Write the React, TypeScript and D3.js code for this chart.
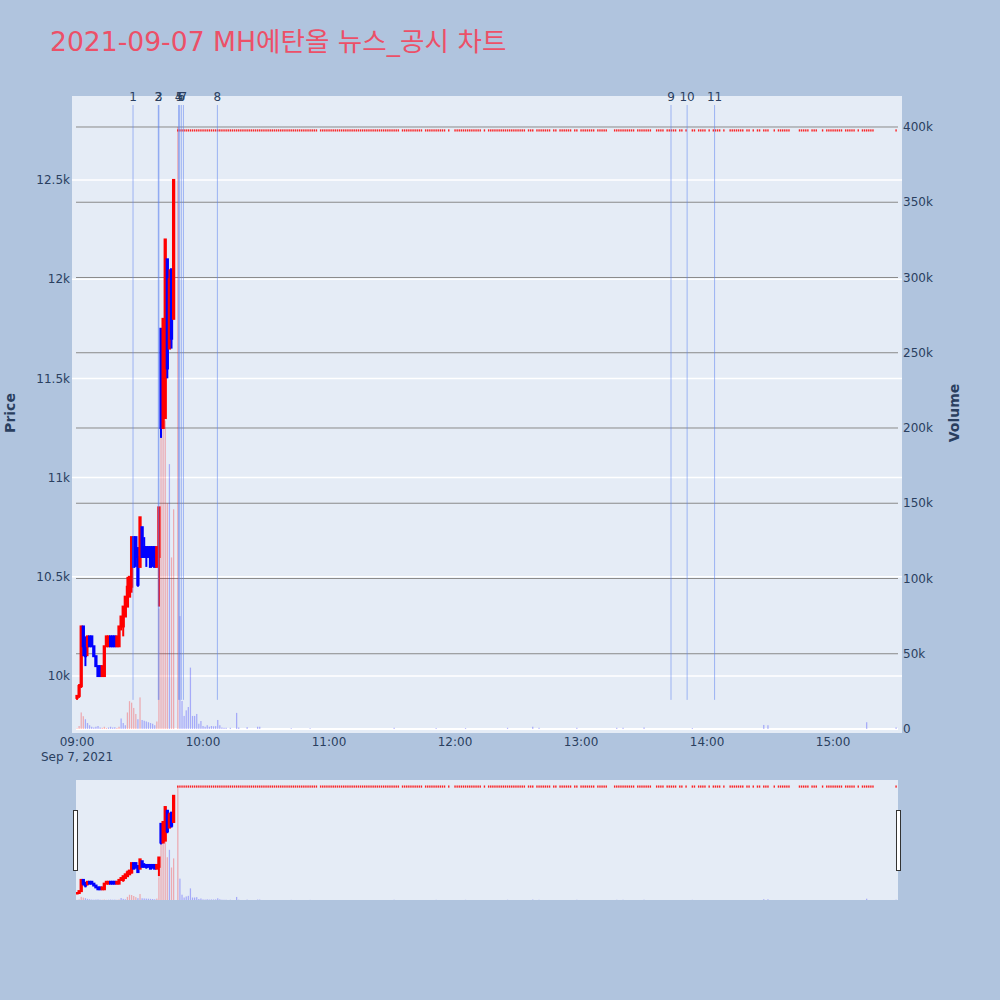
import React from 'react';
import * as d3 from 'd3';

const TITLE = '2021-09-07 MH에탄올 뉴스_공시 차트';

// 1-minute candles before the upper limit
const candleTimes = [
  '09:00','09:01','09:02','09:03','09:04','09:05','09:06','09:07','09:08','09:09',
  '09:10','09:11','09:12','09:13','09:14','09:15','09:16','09:17','09:18','09:19',
  '09:20','09:21','09:22','09:23','09:24','09:25','09:26','09:27','09:28','09:29',
  '09:30','09:31','09:32','09:33','09:34','09:35','09:36','09:37','09:38','09:39',
  '09:40','09:41','09:42','09:43','09:44','09:45','09:46',
];
const opens = [
  9890, 9900, 9950, 10250, 10150, 10150, 10200, 10200, 10150, 10100,
  10050, 10050, 10000, 10000, 10150, 10150, 10200, 10200, 10200, 10150,
  10150, 10250, 10250, 10300, 10350, 10400, 10450, 10700, 10700, 10600,
  10550, 10750, 10650, 10650, 10650, 10650, 10650, 10650, 10550, 10600,
  11750, 11250, 11300, 12100, 11650, 12050, 11800,
];
const highs = [
  9900, 9960, 10250, 10250, 10200, 10200, 10200, 10200, 10150, 10100,
  10050, 10050, 10050, 10150, 10200, 10200, 10200, 10200, 10200, 10200,
  10250, 10300, 10350, 10400, 10500, 10500, 10700, 10700, 10700, 10650,
  10800, 10750, 10700, 10650, 10650, 10650, 10650, 10650, 10650, 10850,
  11750, 11800, 12200, 12100, 12050, 12050, 12500,
];
const lows = [
  9880, 9890, 9940, 10100, 10050, 10100, 10150, 10150, 10100, 10050,
  10000, 10000, 10000, 10000, 10150, 10150, 10150, 10150, 10150, 10150,
  10150, 10230, 10200, 10300, 10350, 10400, 10420, 10550, 10550, 10450,
  10550, 10600, 10600, 10550, 10600, 10550, 10550, 10550, 10550, 10350,
  11200, 11250, 11300, 11500, 11650, 11650, 11800,
];
const closes = [
  9900, 9950, 10250, 10150, 10100, 10200, 10150, 10150, 10100, 10050,
  10000, 10000, 10050, 10150, 10200, 10200, 10150, 10150, 10150, 10200,
  10250, 10300, 10350, 10400, 10450, 10500, 10700, 10550, 10600, 10460,
  10800, 10600, 10600, 10600, 10600, 10550, 10600, 10550, 10650, 10850,
  11250, 11800, 12200, 11550, 12000, 11700, 12500,
];

// trades at the upper-limit price (runs of minutes with a trade)
const limitPrice = 12750;
const limitRunStarts = [
  '09:48','10:56','11:35','11:46','11:57','12:00','12:14','12:16','12:35','12:39',
  '12:47','12:50','12:57','13:00','13:08','13:16','13:27','13:36','13:41','13:47',
  '13:50','13:53','13:56','14:01','14:03','14:08','14:11','14:19','14:22','14:24',
  '14:27','14:32','14:34','14:44','14:50','14:55','14:57','15:06','15:12','15:14','15:30',
];
const limitRunEnds = [
  '10:54','11:33','11:44','11:55','11:57','12:12','12:14','12:33','12:37','12:45',
  '12:48','12:55','12:58','13:06','13:12','13:25','13:33','13:39','13:45','13:48',
  '13:50','13:54','13:59','14:01','14:06','14:08','14:17','14:20','14:22','14:25',
  '14:29','14:32','14:39','14:48','14:52','14:55','15:04','15:10','15:12','15:19','15:30',
];

// volume per minute
const volTimes = [
  '09:00','09:01','09:02','09:03','09:04','09:05','09:06','09:07','09:08','09:09',
  '09:10','09:11','09:12','09:13','09:14','09:15','09:16','09:17','09:18','09:19',
  '09:20','09:21','09:22','09:23','09:24','09:25','09:26','09:27','09:28','09:29',
  '09:30','09:31','09:32','09:33','09:34','09:35','09:36','09:37','09:38','09:39',
  '09:40','09:41','09:42','09:43','09:44','09:45','09:46','09:48','09:49','09:50',
  '09:51','09:52','09:53','09:54','09:55','09:56','09:57','09:58','09:59','10:00',
  '10:01','10:02','10:03','10:04','10:05','10:06','10:07','10:08','10:09','10:10',
  '10:11','10:13','10:16','10:17','10:21','10:26','10:27','10:42','10:51','11:31',
  '11:51','12:05','12:25','12:37','12:40','12:58','13:17','13:20','13:30','13:53',
  '14:27','14:29','15:16','15:30',
];
const volValues = [
  500, 2000, 11000, 8500, 6500, 4000, 2500, 1500, 1000, 1500,
  2000, 1000, 800, 1500, 600, 1000, 1500, 1000, 1200, 700,
  1500, 7000, 4000, 2500, 11000, 18500, 17500, 14000, 10000, 6500,
  21000, 6000, 5500, 5000, 4500, 4000, 3500, 2500, 5000, 80000,
  200000, 230000, 205000, 150000, 176000, 114000, 146000, 400000, 75000, 18600,
  8700, 12400, 14600, 40800, 8700, 8700, 10000, 3500, 5300, 2000,
  1500, 2500, 1500, 2000, 1800, 1900, 6000, 2500, 1000, 800,
  800, 800, 10700, 1000, 1200, 1500, 1500, 500, 500, 800,
  600, 600, 800, 1500, 800, 800, 800, 800, 1000, 600,
  2700, 2500, 4500, 1000,
];
const volDirs = [
  'u','u','u','u','d','d','d','d','d','d',
  'd','d','u','u','u','d','d','d','d','u',
  'u','d','d','d','u','u','u','u','u','d',
  'u','d','d','d','d','d','d','d','u','u',
  'u','u','u','u','d','u','u','u','d','d',
  'd','d','d','d','d','d','d','d','d','d',
  'd','d','d','d','d','d','d','d','d','d',
  'd','d','d','d','d','d','d','d','d','d',
  'd','d','d','d','d','d','d','d','d','d',
  'd','d','d','d',
];

// news / disclosure markers
const newsTimes = ['09:26:40','09:38:42','09:39:00','09:48:20','09:48:50','09:49:40','09:50:40','10:06:50','13:42:50','13:50:30','14:03:35'];
const newsLabels = ['1','2','3','4','5','6','7','8','9','10','11'];

const priceTicks = [10000, 10500, 11000, 11500, 12000, 12500];
const volTicks = [0, 50000, 100000, 150000, 200000, 250000, 300000, 350000, 400000];
const timeTicks = ['09:00','10:00','11:00','12:00','13:00','14:00','15:00'];

const parseT = (s: string) => {
  const [h, m, sec] = s.split(':').map(Number);
  return new Date(2021, 8, 7, h, m, sec || 0);
};

const RED = '#ff0000';
const BLUE = '#0000ff';
const TXT = '#2a3f5f';
const FONT = "'DejaVu Sans', Verdana, 'Noto Sans CJK KR', sans-serif";

type Candle = { t: Date; o: number; h: number; l: number; c: number };

export default function App() {
  const candles: Candle[] = candleTimes.map((t, i) => ({
    t: parseT(t), o: opens[i], h: highs[i], l: lows[i], c: closes[i],
  }));
  limitRunStarts.forEach((s, i) => {
    const a = parseT(s).getTime();
    const b = parseT(limitRunEnds[i]).getTime();
    for (let t = a; t <= b; t += 60000) {
      candles.push({ t: new Date(t), o: limitPrice, h: limitPrice, l: limitPrice, c: limitPrice });
    }
  });
  const vols = volTimes.map((t, i) => ({ t: parseT(t), v: volValues[i], up: volDirs[i] === 'u' }));

  const x = d3.scaleTime().domain([parseT('08:59:31'), parseT('15:30:55')]).range([76, 898]);
  const yP = d3.scaleLinear().domain([9713, 12923]).range([733, 96]);
  const yV = d3.scaleLinear().domain([-2658, 420598]).range([733, 96]);
  const yPs = d3.scaleLinear().domain([9713, 12923]).range([900, 780]);
  const yVs = d3.scaleLinear().domain([0, 421000]).range([900, 780]);

  const mw = x(parseT('09:01')) - x(parseT('09:00'));
  const bw = mw * 0.6;

  const minLow = d3.min(candles, (d) => d.l) as number;
  const maxHigh = d3.max(candles, (d) => d.h) as number;

  const drawVolumes = (yS: d3.ScaleLinear<number, number>, key: string) =>
    vols.map((d, i) => (
      <rect
        key={key + i}
        x={x(d.t) - bw / 2}
        y={yS(d.v)}
        width={bw}
        height={Math.max(0, yS(0) - yS(d.v))}
        fill={d.up ? RED : BLUE}
        opacity={0.28}
      />
    ));

  const drawCandles = (yS: d3.ScaleLinear<number, number>, key: string) =>
    candles.map((d, i) => {
      const cx = x(d.t);
      if (d.o === d.h && d.h === d.l && d.l === d.c) {
        return (
          <rect key={key + i} x={cx - 0.7} y={yS(d.c) - 1} width={1.4} height={2.2} fill={RED} opacity={0.85} />
        );
      }
      const col = d.c >= d.o ? RED : BLUE;
      const yt = yS(Math.max(d.o, d.c));
      const yb = yS(Math.min(d.o, d.c));
      return (
        <g key={key + i}>
          <line x1={cx} x2={cx} y1={yS(d.h)} y2={yS(d.l)} stroke={col} strokeWidth={2} />
          <rect x={cx - bw / 2} y={yt} width={bw} height={Math.max(0.5, yb - yt)} fill={col} stroke={col} strokeWidth={2} />
        </g>
      );
    });

  const priceFmt = (v: number) => (v / 1000) + 'k';
  const volFmt = (v: number) => (v === 0 ? '0' : v / 1000 + 'k');

  return (
    <svg width={1000} height={1000} style={{ position: 'fixed', left: 0, top: 0, fontFamily: FONT }}>
      <defs>
        <clipPath id="mainclip"><rect x={72} y={96} width={830} height={637} /></clipPath>
        <clipPath id="sliderclip"><rect x={76} y={780} width={822} height={120} /></clipPath>
      </defs>
      <rect x={0} y={0} width={1000} height={1000} fill="#b0c4de" />
      <text x={50} y={51} fontSize={26.6} fill="#ec5068" fontFamily={FONT}>{TITLE}</text>

      {/* main plot */}
      <rect x={72} y={96} width={830} height={637} fill="#e5ecf6" />
      <g clipPath="url(#mainclip)">
        {priceTicks.map((p) => (
          <line key={'pg' + p} x1={72} x2={902} y1={yP(p)} y2={yP(p)} stroke="#ffffff" strokeWidth={1.5} />
        ))}
        {volTicks.slice(1).map((v) => (
          <line key={'vg' + v} x1={76} x2={898} y1={yV(v)} y2={yV(v)} stroke="#8a8a8a" strokeWidth={1} />
        ))}
        <line x1={76} x2={898} y1={yV(0)} y2={yV(0)} stroke="#ffffff" strokeWidth={2} />
        {drawVolumes(yV, 'v')}
        {drawCandles(yP, 'c')}
        {newsTimes.map((t, i) => (
          <line key={'n' + i} x1={x(parseT(t))} x2={x(parseT(t))} y1={yP(maxHigh * 1.01)} y2={yP(minLow)}
            stroke="#5f84f0" strokeOpacity={0.55} strokeWidth={1} />
        ))}
      </g>
      {newsTimes.map((t, i) => (
        <text key={'nl' + i} x={x(parseT(t))} y={yP(maxHigh * 1.01) - 4} fontSize={12} fill={TXT} textAnchor="middle">
          {newsLabels[i]}
        </text>
      ))}

      {/* axes */}
      {priceTicks.map((p) => (
        <text key={'pt' + p} x={70} y={yP(p)} dy="0.35em" fontSize={12} fill={TXT} textAnchor="end">{priceFmt(p)}</text>
      ))}
      {volTicks.map((v) => (
        <text key={'vt' + v} x={903} y={yV(v)} dy="0.35em" fontSize={12} fill={TXT} textAnchor="start">{volFmt(v)}</text>
      ))}
      {timeTicks.map((t) => (
        <text key={'tt' + t} x={x(parseT(t))} y={746} fontSize={12} fill={TXT} textAnchor="middle">{t}</text>
      ))}
      <text x={x(parseT('09:00'))} y={761} fontSize={12} fill={TXT} textAnchor="middle">Sep 7, 2021</text>
      <text transform="translate(15,413) rotate(-90)" fontSize={14} fontWeight="bold" fill={TXT} textAnchor="middle">Price</text>
      <text transform="translate(959,413) rotate(-90)" fontSize={14} fontWeight="bold" fill={TXT} textAnchor="middle">Volume</text>

      {/* range slider */}
      <rect x={76} y={780} width={822} height={120} fill="#e5ecf6" />
      <g clipPath="url(#sliderclip)">
        {drawVolumes(yVs, 'sv')}
        {drawCandles(yPs, 'sc')}
      </g>
      <rect x={73.5} y={810.5} width={4} height={60} fill="#ffffff" stroke="#333" strokeWidth={1} />
      <rect x={896.5} y={810.5} width={4} height={60} fill="#ffffff" stroke="#333" strokeWidth={1} />
    </svg>
  );
}
